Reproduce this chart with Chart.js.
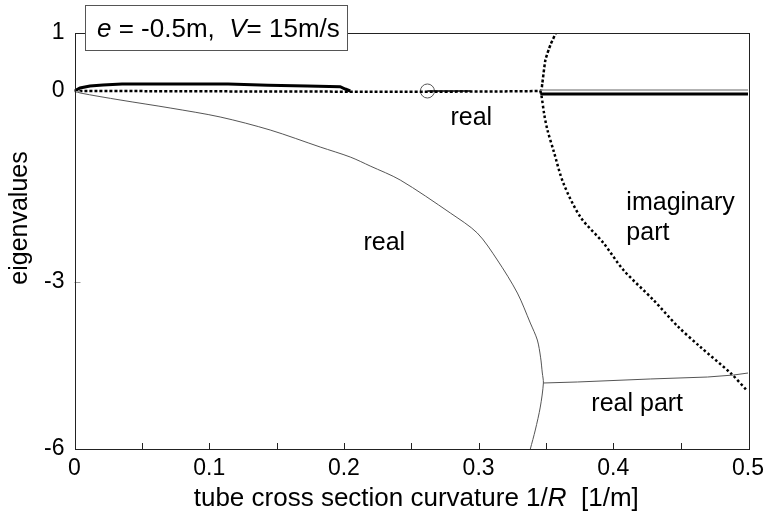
<!DOCTYPE html>
<html><head><meta charset="utf-8">
<script src="https://cdn.jsdelivr.net/npm/chart.js@4.4.0/dist/chart.umd.min.js"></script>
<style>html,body{margin:0;padding:0;background:#fff;}#wrap{width:771px;height:523px;}</style>
</head><body><div id="wrap"><canvas id="c" width="771" height="523"></canvas></div>
<script>
// ---- data ----
const xTicks = [0, 0.1, 0.2, 0.3, 0.4, 0.5];
const xMinorTicks = [0.05, 0.1, 0.15, 0.2, 0.25, 0.3, 0.35, 0.4, 0.45];
const yTicks = [1, 0, -3, -6];

// grey curve "real" (upper branch down to the knee, then lower branch)
const realX = [0, 0.0041, 0.0338, 0.0710, 0.1081, 0.1453, 0.1824, 0.2047, 0.2195, 0.2418, 0.2790, 0.2990, 0.3139, 0.3288, 0.3384, 0.3436, 0.3460, 0.3473, 0.3481, 0.3458, 0.3421, 0.3384];
const realY = [0, -0.031, -0.141, -0.267, -0.408, -0.613, -0.880, -1.037, -1.178, -1.398, -1.916, -2.230, -2.654, -3.198, -3.737, -4.042, -4.350, -4.635, -4.814, -5.246, -5.659, -6.0];
// grey "real part" after the knee
const realPartX = [0.3481, 0.3733, 0.4275, 0.4699, 0.4892, 0.5];
const realPartY = [-4.814, -4.796, -4.742, -4.707, -4.671, -4.635];
// dotted imaginary part: zero, then upper branch
const imagUpX = [0, 0.3458, 0.3473, 0.3496, 0.3533, 0.3577];
const imagUpY = [0, 0, 0.138, 0.534, 0.793, 1.017];
// dotted imaginary part: lower branch
const imagDownX = [0.3458, 0.3466, 0.3488, 0.3511, 0.3555, 0.3629, 0.3756, 0.3927, 0.4075, 0.4298, 0.4476, 0.4647, 0.4870, 0.4996];
const imagDownY = [0, -0.063, -0.377, -0.613, -0.927, -1.445, -1.979, -2.387, -2.811, -3.323, -3.790, -4.168, -4.635, -4.958];
// thick black real part
const humpX = [0, 0.0041, 0.0115, 0.0212, 0.0353, 0.1140, 0.1437, 0.1727, 0.1972, 0.2010, 0.2047];
const humpY = [0, 0.052, 0.086, 0.103, 0.121, 0.121, 0.098, 0.086, 0.074, 0.034, 0];
const tailX = [0.3458, 0.5];
const tailY = [-0.047, -0.047];
const greyZeroX = [0.3458, 0.5];
const greyZeroY = [0.017, 0.017];
const thinZeroX = [0.262, 0.294];
const thinZeroY = [0, 0];
const markerX = [0.262];
const markerY = [0];

const pts = (xs, ys) => xs.map((x, i) => ({x: x, y: ys[i]}));

// ---- piecewise y scale (matches the original's uneven tick spacing) ----
const Y_BREAKS = [-6, -3, 0, 1];
const Y_FRACS = [0, 0.4014, 0.8606, 1];
class PiecewiseScale extends Chart.LinearScale {
  getPixelForValue(v) {
    const b = Y_BREAKS, fr = Y_FRACS;
    let i = 0;
    if (v <= b[0]) i = 0;
    else if (v >= b[b.length - 1]) i = b.length - 2;
    else { while (i < b.length - 2 && v > b[i + 1]) i++; }
    const f = fr[i] + (v - b[i]) / (b[i + 1] - b[i]) * (fr[i + 1] - fr[i]);
    return this.bottom - f * (this.bottom - this.top);
  }
  getValueForPixel(p) {
    const f = (this.bottom - p) / (this.bottom - this.top);
    const b = Y_BREAKS, fr = Y_FRACS;
    let i = 0;
    if (f <= fr[0]) i = 0;
    else if (f >= fr[fr.length - 1]) i = fr.length - 2;
    else { while (i < fr.length - 2 && f > fr[i + 1]) i++; }
    return b[i] + (f - fr[i]) / (fr[i + 1] - fr[i]) * (b[i + 1] - b[i]);
  }
}
PiecewiseScale.id = 'piecewise';
PiecewiseScale.defaults = Chart.LinearScale.defaults;
Chart.register(PiecewiseScale);

const FONT = '"Liberation Sans", Arial, Helvetica, sans-serif';

function drawMixed(ctx, parts, x, y, size, align) {
  let total = 0;
  parts.forEach(p => { ctx.font = (p[1] ? 'italic ' : '') + size + 'px ' + FONT; total += ctx.measureText(p[0]).width; });
  let cx = align === 'center' ? x - total / 2 : x;
  ctx.textAlign = 'left';
  parts.forEach(p => { ctx.font = (p[1] ? 'italic ' : '') + size + 'px ' + FONT; ctx.fillText(p[0], cx, y); cx += ctx.measureText(p[0]).width; });
}

const decor = {
  id: 'decor',
  afterDraw(chart) {
    const ctx = chart.ctx, a = chart.chartArea;
    const xs = chart.scales.x, ys = chart.scales.y;
    ctx.save();
    // inward tick marks
    ctx.strokeStyle = '#222'; ctx.lineWidth = 1;
    xMinorTicks.forEach(v => {
      const px = Math.round(xs.getPixelForValue(v)) + 0.5;
      ctx.beginPath(); ctx.moveTo(px, a.bottom); ctx.lineTo(px, a.bottom - 6); ctx.stroke();
    });
    ctx.strokeStyle = '#999';
    [0, -3].forEach(v => {
      const py = Math.round(ys.getPixelForValue(v)) + 0.5;
      ctx.beginPath(); ctx.moveTo(a.left, py); ctx.lineTo(a.left + 6, py); ctx.stroke();
    });
    // axes box
    ctx.strokeStyle = '#222'; ctx.lineWidth = 1;
    ctx.strokeRect(Math.round(a.left) + 0.5, Math.round(a.top) + 0.5, Math.round(a.right - a.left), Math.round(a.bottom - a.top));
    // in-plot labels
    ctx.fillStyle = '#000';
    ctx.textBaseline = 'middle';
    ctx.font = '25px ' + FONT;
    ctx.textAlign = 'center';
    ctx.fillText('real', xs.getPixelForValue(0.2946), ys.getPixelForValue(-0.424));
    ctx.fillText('real', xs.getPixelForValue(0.230), ys.getPixelForValue(-2.387));
    ctx.textAlign = 'left';
    ctx.fillText('imaginary', xs.getPixelForValue(0.4097), ys.getPixelForValue(-1.759));
    ctx.fillText('part', xs.getPixelForValue(0.4097), ys.getPixelForValue(-2.230));
    ctx.fillText('real part', xs.getPixelForValue(0.3837), ys.getPixelForValue(-5.19));
    // legend-like title box
    ctx.fillStyle = '#fff';
    ctx.fillRect(85.5, 5.5, 262, 45);
    ctx.strokeStyle = '#555';
    ctx.strokeRect(85.5, 5.5, 262, 45);
    ctx.fillStyle = '#000';
    ctx.textBaseline = 'alphabetic';
    drawMixed(ctx, [['e', true], [' = -0.5m,  ', false], ['V', true], ['= 15m/s', false]], 97, 37, 26, 'left');
    // x axis title
    drawMixed(ctx, [['tube cross section curvature 1/', false], ['R', true], ['  [1/m]', false]], (a.left + a.right) / 2 + 5, 506, 26, 'center');
    // y axis title
    ctx.translate(27, 218);
    ctx.rotate(-Math.PI / 2);
    ctx.font = '25px ' + FONT;
    ctx.textAlign = 'center';
    ctx.fillText('eigenvalues', 0, 0);
    ctx.restore();
  }
};

const line = (data, color, width, dash, tension) => ({
  data: data, showLine: true, borderColor: color, borderWidth: width, borderDash: dash || [],
  pointRadius: 0, tension: tension || 0, fill: false
});

new Chart(document.getElementById('c'), {
  type: 'scatter',
  data: {
    datasets: [
      line(pts(realX, realY), '#555', 1, null, 0.3),
      line(pts(realPartX, realPartY), '#555', 1),
      line(pts(greyZeroX, greyZeroY), '#999', 1.5),
      line(pts(humpX, humpY), '#000', 3),
      line(pts(tailX, tailY), '#000', 3),
      line(pts(thinZeroX, thinZeroY), '#000', 1.5),
      line(pts(imagUpX, imagUpY), '#000', 2.5, [3, 2], 0.2),
      line(pts(imagDownX, imagDownY), '#000', 2.5, [2.5, 2.5], 0.3),
      {data: pts(markerX, markerY), showLine: false, pointRadius: 7, pointBorderColor: '#555', pointBackgroundColor: 'rgba(0,0,0,0)', pointBorderWidth: 1}
    ]
  },
  options: {
    responsive: false, animation: false, devicePixelRatio: 1,
    layout: {padding: {top: 33, right: 23, left: 0, bottom: 0}},
    plugins: {legend: {display: false}, tooltip: {enabled: false}},
    scales: {
      x: {
        type: 'linear', min: 0, max: 0.5,
        afterBuildTicks: s => { s.ticks = xTicks.map(v => ({value: v})); },
        afterFit: s => { s.height = 74; },
        grid: {display: false, drawTicks: false}, border: {display: false},
        ticks: {color: '#000', font: {family: FONT, size: 23}, padding: 6, maxRotation: 0, callback: v => String(v)}
      },
      y: {
        type: 'piecewise', min: -6, max: 1,
        afterBuildTicks: s => { s.ticks = yTicks.map(v => ({value: v})); },
        afterFit: s => { s.width = 74.5; },
        grid: {display: false, drawTicks: false}, border: {display: false},
        ticks: {color: '#000', font: {family: FONT, size: 23}, padding: 10, callback: v => String(v)}
      }
    }
  },
  plugins: [decor]
});
</script>
</body></html>
